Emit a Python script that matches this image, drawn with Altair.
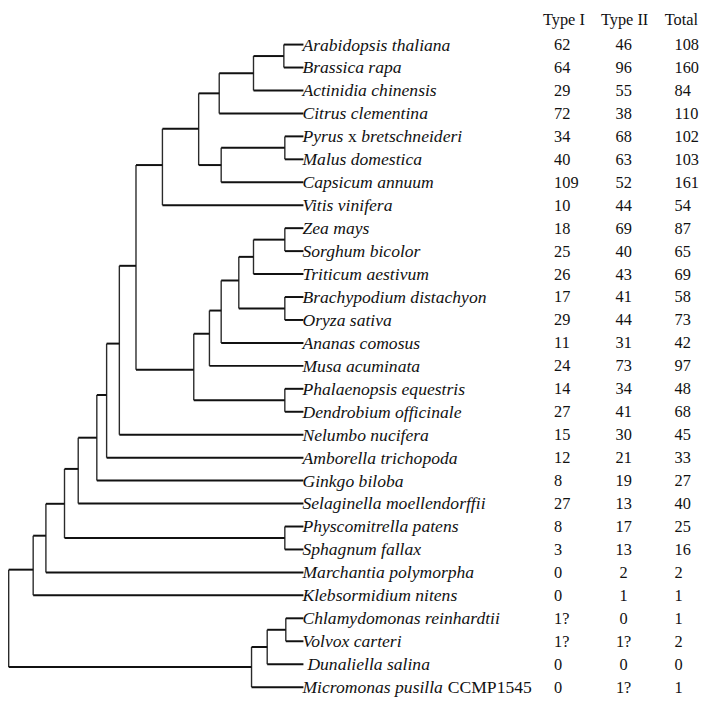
import altair as alt
import pandas as pd

# ---------------- data ----------------
species = [
    "Arabidopsis thaliana", "Brassica rapa", "Actinidia chinensis", "Citrus clementina",
    "Pyrus x bretschneideri", "Malus domestica", "Capsicum annuum", "Vitis vinifera",
    "Zea mays", "Sorghum bicolor", "Triticum aestivum", "Brachypodium distachyon",
    "Oryza sativa", "Ananas comosus", "Musa acuminata", "Phalaenopsis equestris",
    "Dendrobium officinale", "Nelumbo nucifera", "Amborella trichopoda", "Ginkgo biloba",
    "Selaginella moellendorffii", "Physcomitrella patens", "Sphagnum fallax",
    "Marchantia polymorpha", "Klebsormidium nitens", "Chlamydomonas reinhardtii",
    "Volvox carteri", "Dunaliella salina", "Micromonas pusilla CCMP1545",
]
# italic part of each label (pieces set apart are added separately)
italic_label = [
    "Arabidopsis thaliana", "Brassica rapa", "Actinidia chinensis", "Citrus clementina",
    "Pyrus", "Malus domestica", "Capsicum annuum", "Vitis vinifera",
    "Zea mays", "Sorghum bicolor", "Triticum aestivum", "Brachypodium distachyon",
    "Oryza sativa", "Ananas comosus", "Musa acuminata", "Phalaenopsis equestris",
    "Dendrobium officinale", "Nelumbo nucifera", "Amborella trichopoda", "Ginkgo biloba",
    "Selaginella moellendorffii", "Physcomitrella patens", "Sphagnum fallax",
    "Marchantia polymorpha", "Klebsormidium nitens", "Chlamydomonas reinhardtii",
    "Volvox carteri", "", "Micromonas pusilla",
]
type1 = ["62", "64", "29", "72", "34", "40", "109", "10", "18", "25", "26", "17", "29", "11",
         "24", "14", "27", "15", "12", "8", "27", "8", "3", "0", "0", "1?", "1?", "0", "0"]
type2 = ["46", "96", "55", "38", "68", "63", "52", "44", "69", "40", "43", "41", "44", "31",
         "73", "34", "41", "30", "21", "19", "13", "17", "13", "2", "1", "0", "1?", "0", "1?"]
total = ["108", "160", "84", "110", "102", "103", "161", "54", "87", "65", "69", "58", "73", "42",
         "97", "48", "68", "45", "33", "27", "40", "25", "16", "2", "1", "1", "2", "0", "1"]
headers = ["Type I", "Type II", "Total"]

# tree: (node, branch position, row position or None for midpoint, children)
tree_nodes = [
    ("root", 2, None, ["n_klebs", "n_algae"]),
    ("n_klebs", 27, 22.88, ["n_march", "Klebsormidium nitens"]),
    ("n_march", 40, 21.40, ["n_bryo", "Marchantia polymorpha"]),
    ("n_bryo", 59, 20.01, ["n_selag", "n_moss"]),
    ("n_moss", 284, None, ["Physcomitrella patens", "Sphagnum fallax"]),
    ("n_selag", 73, 18.49, ["n_ginkgo", "Selaginella moellendorffii"]),
    ("n_ginkgo", 92, 17.13, ["n_ambor", "Ginkgo biloba"]),
    ("n_ambor", 102, 15.27, ["n_nelumbo", "Amborella trichopoda"]),
    ("n_nelumbo", 115, 13.03, ["n_core", "Nelumbo nucifera"]),
    ("n_core", 132, 9.64, ["n_eudicot", "n_monocot"]),
    ("n_eudicot", 159, 5.25, ["n_rosid", "Vitis vinifera"]),
    ("n_rosid", 196, 3.67, ["n_citrus", "n_caps"]),
    ("n_citrus", 217, None, ["n_actin", "Citrus clementina"]),
    ("n_actin", 252, None, ["n_brass", "Actinidia chinensis"]),
    ("n_brass", 283, None, ["Arabidopsis thaliana", "Brassica rapa"]),
    ("n_caps", 219, None, ["n_malus", "Capsicum annuum"]),
    ("n_malus", 284, None, ["Pyrus x bretschneideri", "Malus domestica"]),
    ("n_monocot", 191, 14.17, ["n_musa", "n_orchid"]),
    ("n_musa", 207, 12.6, ["n_ananas", "Musa acuminata"]),
    ("n_ananas", 219, 11.59, ["n_grass", "Ananas comosus"]),
    ("n_grass", 237, 10.28, ["n_trit", "n_oryza"]),
    ("n_trit", 252, None, ["n_sorg", "Triticum aestivum"]),
    ("n_sorg", 284, None, ["Zea mays", "Sorghum bicolor"]),
    ("n_oryza", 284, None, ["Brachypodium distachyon", "Oryza sativa"]),
    ("n_orchid", 284, None, ["Phalaenopsis equestris", "Dendrobium officinale"]),
    ("n_algae", 250, 27.12, ["n_dunal", "Micromonas pusilla CCMP1545"]),
    ("n_dunal", 266, None, ["n_volvox", "Dunaliella salina"]),
    ("n_volvox", 285, None, ["Chlamydomonas reinhardtii", "Volvox carteri"]),
]
tip_pos = 303
col_type1, col_type2, col_total = 559, 630, 682
head_pos = [569, 631, 689]

# ---------------- build segments from the tree ----------------
node_map = {n[0]: n for n in tree_nodes}
row_of = {s: i for i, s in enumerate(species)}
pos_cache = {}


def node_pos(name):
    if name in row_of:
        return tip_pos, float(row_of[name])
    if name in pos_cache:
        return pos_cache[name]
    _, bx, by, kids = node_map[name]
    ys = [node_pos(k)[1] for k in kids]
    if by is None:
        by = (min(ys) + max(ys)) / 2
    pos_cache[name] = (bx, by)
    return bx, by


hseg, vseg = [], []
for name, bx, _, kids in tree_nodes:
    nx, ny = node_pos(name)
    kid_pos = [node_pos(k) for k in kids]
    vseg.append({"x": nx, "y": min(p[1] for p in kid_pos), "y2": max(p[1] for p in kid_pos)})
    for kx, ky in kid_pos:
        hseg.append({"x": nx, "x2": kx, "y": ky})

hdf = pd.DataFrame(hseg)
vdf = pd.DataFrame(vseg)
rows = pd.DataFrame({
    "row": list(range(len(species))),
    "label": italic_label,
    "t1": type1, "t2": type2, "tot": total,
})
rows["tip"] = tip_pos
rows["c1"] = col_type1
rows["c2"] = col_type2
rows["c3"] = col_total
head_df = pd.DataFrame({"text": headers, "x": head_pos, "row": [-1, -1, -1]})

pyrus_row = row_of["Pyrus x bretschneideri"]
micro_row = row_of["Micromonas pusilla CCMP1545"]
dunal_row = row_of["Dunaliella salina"]
extra_roman = pd.DataFrame({"row": [pyrus_row], "text": ["x"], "tip": [tip_pos]})
extra_italic = pd.DataFrame({"row": [pyrus_row], "text": ["bretschneideri"], "tip": [tip_pos]})
extra_roman2 = pd.DataFrame({"row": [micro_row], "text": ["CCMP1545"], "tip": [tip_pos]})
extra_dunal = pd.DataFrame({"row": [dunal_row], "text": ["Dunaliella salina"], "tip": [tip_pos]})

# ---------------- scales ----------------
W, H = 701, 693
xs = alt.Scale(domain=[2, 709], range=[0.7, W], nice=False, zero=False)
ys = alt.Scale(domain=[-1.4216, 28.431], range=[0, H], nice=False, zero=False)
FONT = "Liberation Serif"
SP_SIZE = 17.8
TB_SIZE = 16.5

hrules = alt.Chart(hdf).mark_rule(color="#111111", strokeWidth=2).encode(
    x=alt.X("x:Q", scale=xs, axis=None),
    x2="x2:Q",
    y=alt.Y("y:Q", scale=ys, axis=None),
)
vrules = alt.Chart(vdf).mark_rule(color="#2a2a2a", strokeWidth=1.4).encode(
    x=alt.X("x:Q", scale=xs, axis=None),
    y=alt.Y("y:Q", scale=ys, axis=None),
    y2="y2:Q",
)


def text_layer(df, xfield, tfield, align="left", italic=False, size=SP_SIZE, dx=0, dy=6):
    return alt.Chart(df).mark_text(
        font=FONT, fontSize=size, fontStyle="italic" if italic else "normal",
        align=align, baseline="alphabetic", dx=dx, dy=dy, color="#111111",
    ).encode(
        x=alt.X(f"{xfield}:Q", scale=xs, axis=None),
        y=alt.Y("row:Q", scale=ys, axis=None),
        text=f"{tfield}:N",
    )


labels = text_layer(rows, "tip", "label", italic=True, dx=-1)
dunal = text_layer(extra_dunal, "tip", "text", italic=True, dx=4)
pyr_x = text_layer(extra_roman, "tip", "text", italic=False, dx=-1 + 46)
pyr_b = text_layer(extra_italic, "tip", "text", italic=True, dx=-1 + 59.5)
mic_c = text_layer(extra_roman2, "tip", "text", italic=False, dx=-1 + 147)

t1 = text_layer(rows, "c1", "t1", size=TB_SIZE, dy=5.5)
t2 = text_layer(rows, "c2", "t2", align="center", size=TB_SIZE, dy=5.5)
t3 = text_layer(rows, "c3", "tot", size=TB_SIZE, dy=5.5)
heads = alt.Chart(head_df).mark_text(
    font=FONT, fontSize=TB_SIZE, align="center", baseline="alphabetic", dy=3, color="#111111"
).encode(
    x=alt.X("x:Q", scale=xs, axis=None),
    y=alt.Y("row:Q", scale=ys, axis=None),
    text="text:N",
)

chart = alt.layer(
    vrules, hrules, labels, dunal, pyr_x, pyr_b, mic_c, t1, t2, t3, heads
).properties(
    width=W, height=H, padding=0, autosize=alt.AutoSizeParams(type="none"),
    background="white",
).configure_view(stroke=None)

chart.save("out.html", embed_options={"renderer": "svg", "actions": False})
